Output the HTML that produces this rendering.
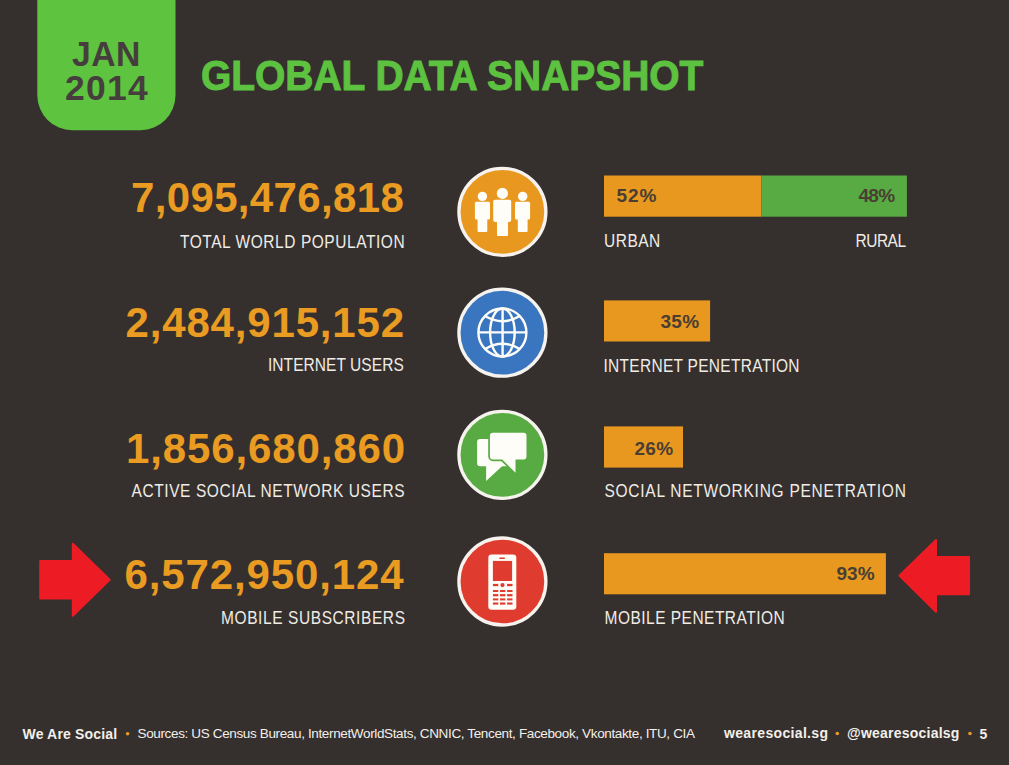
<!DOCTYPE html>
<html><head><meta charset="utf-8">
<style>
html,body{margin:0;padding:0}
body{width:1009px;height:765px;overflow:hidden;background:#35302e;position:relative;font-family:"Liberation Sans",sans-serif}
.a{position:absolute;white-space:nowrap;line-height:1}
svg{position:absolute;left:0;top:0}
</style></head><body>
<svg width="1009" height="765" viewBox="0 0 1009 765">
<!-- date tab -->
<path d="M37.3 -5 H175.5 V95.2 A35 35 0 0 1 140.5 130.2 H72.3 A35 35 0 0 1 37.3 95.2 Z" fill="#5ec440"/>
<!-- circles -->
<circle cx="502.4" cy="211.8" r="43.5" fill="#e8981f" stroke="#f6f3ee" stroke-width="3.3"/>
<circle cx="502.4" cy="332.7" r="43.5" fill="#3a76c0" stroke="#f6f3ee" stroke-width="3.3"/>
<circle cx="502.4" cy="454.8" r="43.5" fill="#57ab42" stroke="#f6f3ee" stroke-width="3.3"/>
<circle cx="502.4" cy="581.5" r="43.5" fill="#e03b2f" stroke="#f6f3ee" stroke-width="3.3"/>
<!-- people icon -->
<g fill="#fffdf8">
<circle cx="482.4" cy="196.4" r="4.7"/>
<rect x="474.9" y="201.7" width="15.1" height="17.9" rx="1.5"/>
<rect x="477.6" y="215" width="9.7" height="17.1" rx="1"/>
<circle cx="502.4" cy="193.4" r="5.6"/>
<rect x="493.2" y="199.7" width="18" height="22.2" rx="1.8"/>
<rect x="497" y="217" width="11" height="19.1" rx="1"/>
<circle cx="522.7" cy="196.4" r="4.7"/>
<rect x="515" y="201.7" width="15.1" height="17.9" rx="1.5"/>
<rect x="517.8" y="215" width="9.8" height="17.1" rx="1"/>
</g>
<!-- globe icon -->
<g fill="none" stroke="#fffdf8" stroke-width="2.4">
<circle cx="502.4" cy="332.5" r="24"/>
<ellipse cx="502.4" cy="332.5" rx="12.3" ry="24"/>
<line x1="502.6" y1="308.5" x2="502.6" y2="356.5"/>
<line x1="478.4" y1="332.4" x2="526.4" y2="332.4"/>
<path d="M485.5 316.3 Q502.4 326.2 519.3 316.3"/>
<path d="M485.5 348.7 Q502.4 338.8 519.3 348.7"/>
</g>
<!-- speech bubbles -->
<g fill="#fffdf8">
<rect x="477.1" y="439.1" width="36" height="27.1" rx="3"/>
<path d="M486.1 465 V481.1 L503.4 465 Z"/>
<path d="M492.9 432.8 H523.5 A3 3 0 0 1 526.5 435.8 V456.5 A3 3 0 0 1 523.5 459.5 H515.5 V472.8 L502.2 459.5 H492.9 A3 3 0 0 1 489.9 456.5 V435.8 A3 3 0 0 1 492.9 432.8 Z" stroke="#57ab42" stroke-width="3.4"/>
<path d="M492.9 432.8 H523.5 A3 3 0 0 1 526.5 435.8 V456.5 A3 3 0 0 1 523.5 459.5 H515.5 V472.8 L502.2 459.5 H492.9 A3 3 0 0 1 489.9 456.5 V435.8 A3 3 0 0 1 492.9 432.8 Z"/>
</g>
<!-- phone -->
<rect x="488.3" y="554.6" width="28" height="55.2" rx="3.3" fill="#fffdf8"/>
<g fill="#e03b2f">
<rect x="499.2" y="557.4" width="5.8" height="1.5" rx="0.7"/>
<rect x="492.9" y="560.9" width="19.2" height="20.1"/>
<rect x="492.9" y="583.9" width="5.4" height="2.3"/>
<circle cx="502.5" cy="585.1" r="2.1"/>
<rect x="507" y="583.9" width="5.5" height="2.3"/>
<rect x="492.9" y="590" width="5.4" height="2"/><rect x="500" y="590" width="5.4" height="2"/><rect x="507.1" y="590" width="5.4" height="2"/>
<rect x="492.9" y="594.1" width="5.4" height="2.2"/><rect x="500" y="594.1" width="5.4" height="2.2"/><rect x="507.1" y="594.1" width="5.4" height="2.2"/>
<rect x="492.9" y="598.4" width="5.4" height="2"/><rect x="500" y="598.4" width="5.4" height="2"/><rect x="507.1" y="598.4" width="5.4" height="2"/>
<rect x="492.9" y="602.5" width="5.4" height="2.1"/><rect x="500" y="602.5" width="5.4" height="2.1"/><rect x="507.1" y="602.5" width="5.4" height="2.1"/>
</g>
<!-- bars -->
<rect x="604" y="175.5" width="157.3" height="41.2" fill="#e8981f"/>
<rect x="761.3" y="175.5" width="145.6" height="41.2" fill="#57ab42"/>
<rect x="604" y="300.4" width="106.1" height="41.1" fill="#e8981f"/>
<rect x="604" y="426.4" width="79" height="41.2" fill="#e8981f"/>
<rect x="604" y="553.2" width="281.9" height="41.1" fill="#e8981f"/>
<!-- arrows -->
<path d="M40.2 561 H72.8 V543.8 L109.6 579.8 L72.8 615.8 V598.6 H40.2 Z" fill="#ed1c24" stroke="#ed1c24" stroke-width="2" stroke-linejoin="round"/>
<path d="M969 557.1 H936 V540 L899.4 575.6 L936 611.8 V594.3 H969 Z" fill="#ed1c24" stroke="#ed1c24" stroke-width="2" stroke-linejoin="round"/>
<!-- footer dots -->
<circle cx="127.6" cy="733.8" r="1.8" fill="#e89a22"/>
<circle cx="837.3" cy="733.5" r="1.8" fill="#e89a22"/>
<circle cx="970" cy="733.5" r="1.8" fill="#e89a22"/>
</svg>
<div class="a" style="left:71.50px;top:37.24px;font-size:35.5px;font-weight:bold;color:#463d3d;letter-spacing:0.526px;transform:scale(0.95,1.0);transform-origin:0 0">JAN</div>
<div class="a" style="left:65.00px;top:71.24px;font-size:35.5px;font-weight:bold;color:#463d3d;letter-spacing:1.267px">2014</div>
<div class="a" style="left:201.00px;top:54.21px;font-size:39px;font-weight:bold;color:#5cc240;letter-spacing:-0.053px;transform:scale(1.0,1.1);transform-origin:0 0;-webkit-text-stroke:0.9px #5cc240">GLOBAL DATA SNAPSHOT</div>
<div class="a" style="left:131.00px;top:176.78px;font-size:42px;font-weight:bold;color:#e99b22;letter-spacing:0.350px">7,095,476,818</div>
<div class="a" style="left:180.00px;top:233.20px;font-size:15.5px;font-weight:normal;color:#f0ece6;letter-spacing:0.552px;transform:scale(1.0,1.19);transform-origin:0 0">TOTAL WORLD POPULATION</div>
<div class="a" style="left:125.50px;top:301.78px;font-size:42px;font-weight:bold;color:#e99b22;letter-spacing:0.833px">2,484,915,152</div>
<div class="a" style="left:268.00px;top:356.15px;font-size:15.5px;font-weight:normal;color:#f0ece6;letter-spacing:0.062px;transform:scale(1.0,1.19);transform-origin:0 0">INTERNET USERS</div>
<div class="a" style="left:126.00px;top:427.78px;font-size:42px;font-weight:bold;color:#e99b22;letter-spacing:0.867px">1,856,680,860</div>
<div class="a" style="left:131.50px;top:482.20px;font-size:15.5px;font-weight:normal;color:#f0ece6;letter-spacing:0.585px;transform:scale(1.0,1.19);transform-origin:0 0">ACTIVE SOCIAL NETWORK USERS</div>
<div class="a" style="left:124.50px;top:553.78px;font-size:42px;font-weight:bold;color:#e99b22;letter-spacing:0.883px">6,572,950,124</div>
<div class="a" style="left:221.00px;top:609.15px;font-size:15.5px;font-weight:normal;color:#f0ece6;letter-spacing:0.588px;transform:scale(1.0,1.19);transform-origin:0 0">MOBILE SUBSCRIBERS</div>
<div class="a" style="left:604.00px;top:232.25px;font-size:15.5px;font-weight:normal;color:#f0ece6;letter-spacing:0.500px;transform:scale(1.0,1.19);transform-origin:0 0">URBAN</div>
<div class="a" style="left:855.50px;top:232.25px;font-size:15.5px;font-weight:normal;color:#f0ece6;letter-spacing:-0.500px;transform:scale(1.0,1.19);transform-origin:0 0">RURAL</div>
<div class="a" style="left:603.50px;top:356.65px;font-size:15.5px;font-weight:normal;color:#f0ece6;letter-spacing:0.284px;transform:scale(1.0,1.19);transform-origin:0 0">INTERNET PENETRATION</div>
<div class="a" style="left:604.50px;top:482.25px;font-size:15.5px;font-weight:normal;color:#f0ece6;letter-spacing:0.736px;transform:scale(1.0,1.19);transform-origin:0 0">SOCIAL NETWORKING PENETRATION</div>
<div class="a" style="left:604.50px;top:609.20px;font-size:15.5px;font-weight:normal;color:#f0ece6;letter-spacing:0.482px;transform:scale(1.0,1.19);transform-origin:0 0">MOBILE PENETRATION</div>
<div class="a" style="left:616.50px;top:186.46px;font-size:19px;font-weight:bold;color:#4a3e33;letter-spacing:0.900px">52%</div>
<div class="a" style="left:858.50px;top:186.46px;font-size:19px;font-weight:bold;color:#4a3e33;letter-spacing:-0.700px">48%</div>
<div class="a" style="left:660.50px;top:311.96px;font-size:19px;font-weight:bold;color:#4a3e33;letter-spacing:0.300px">35%</div>
<div class="a" style="left:634.50px;top:438.96px;font-size:19px;font-weight:bold;color:#4a3e33;letter-spacing:0.300px">26%</div>
<div class="a" style="left:836.50px;top:564.46px;font-size:19px;font-weight:bold;color:#4a3e33;letter-spacing:0.000px">93%</div>
<div class="a" style="left:22.50px;top:727.26px;font-size:14px;font-weight:bold;color:#f3efe9;letter-spacing:0.167px">We Are Social</div>
<div class="a" style="left:137.50px;top:727.34px;font-size:13.5px;font-weight:normal;color:#f3efe9;letter-spacing:-0.358px">Sources: US Census Bureau, InternetWorldStats, CNNIC, Tencent, Facebook, Vkontakte, ITU, CIA</div>
<div class="a" style="left:724.00px;top:726.26px;font-size:14px;font-weight:bold;color:#f3efe9;letter-spacing:0.338px">wearesocial.sg</div>
<div class="a" style="left:847.00px;top:726.26px;font-size:14px;font-weight:bold;color:#f3efe9;letter-spacing:0.231px">@wearesocialsg</div>
<div class="a" style="left:979.50px;top:726.76px;font-size:14px;font-weight:bold;color:#f3efe9;letter-spacing:0.000px">5</div>
</body></html>
